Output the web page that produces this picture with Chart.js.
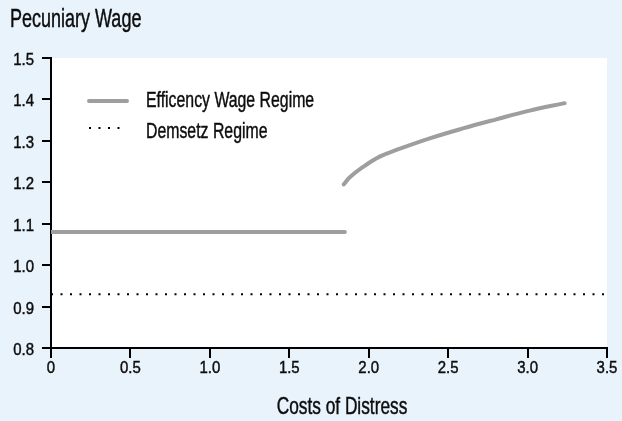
<!DOCTYPE html>
<html>
<head>
<meta charset="utf-8">
<script src="https://cdn.jsdelivr.net/npm/chart.js@4"></script>
<style>
html,body{margin:0;padding:0;background:#e8f3fb;}
#wrap{width:622px;height:421px;position:relative;}
</style>
</head>
<body>
<div id="wrap"><canvas id="c" width="622" height="421"></canvas></div>
<script>
const FONT = "'Liberation Sans', Arial, sans-serif";
const chartTitle = "Pecuniary Wage";
const xTitle = "Costs of Distress";
const seriesNames = ["Efficency Wage Regime", "Demsetz Regime"];
const effX = [0, 1.85, 1.845, 1.843, 1.881, 1.964, 2.069, 2.174, 2.384, 2.593, 2.803, 3.013, 3.233];
const effY = [1.08, 1.08, null, 1.195, 1.212, 1.237, 1.262, 1.278, 1.306, 1.330, 1.352, 1.373, 1.391];
const demX = [0, 3.5];
const demY = [0.93, 0.93];
const xTicks = [0, 0.5, 1.0, 1.5, 2.0, 2.5, 3.0, 3.5];
const yTicks = [0.8, 0.9, 1.0, 1.1, 1.2, 1.3, 1.4, 1.5];

const toPts = (xs, ys) => xs.map((x, i) => ({x: x, y: ys[i]}));
const xLabel = v => v === 0 ? '0' : Number(v).toFixed(1);
const yLabel = v => Number(v).toFixed(1);

function drawText(ctx, text, x, y, size, sx, align, baseline) {
  ctx.save();
  ctx.setLineDash([]);
  ctx.font = size + 'px ' + FONT;
  ctx.textAlign = align;
  ctx.textBaseline = baseline;
  ctx.fillStyle = '#0d0d0d';
  ctx.strokeStyle = '#0d0d0d';
  ctx.lineWidth = 0.45;
  ctx.translate(x, y);
  ctx.scale(sx, 1);
  ctx.fillText(text, 0, 0);
  ctx.strokeText(text, 0, 0);
  ctx.restore();
}

const deco = {
  id: 'deco',
  beforeDraw(chart) {
    const {ctx, chartArea: a} = chart;
    ctx.save();
    ctx.fillStyle = '#e8f3fb';
    ctx.fillRect(0, 0, chart.width, chart.height);
    ctx.fillStyle = '#ffffff';
    ctx.fillRect(a.left, a.top, a.right - a.left, a.bottom - a.top);
    ctx.restore();
  },
  afterDraw(chart) {
    const {ctx, chartArea: a, scales} = chart;
    // tick marks at the library's scale positions
    ctx.save();
    ctx.setLineDash([]);
    ctx.globalAlpha = 1;
    ctx.fillStyle = '#000000';
    xTicks.forEach(v => {
      const px = Math.round(scales.x.getPixelForValue(v));
      ctx.fillRect(px - 1, a.bottom, 2, 10);
    });
    yTicks.forEach(v => {
      const py = Math.round(scales.y.getPixelForValue(v));
      ctx.fillRect(a.left - 9, py - 1, 9, 2);
    });
    ctx.restore();

    drawText(ctx, chartTitle, 10, 27, 25, 0.72, 'left', 'alphabetic');
    drawText(ctx, xTitle, 342, 414, 24, 0.72, 'center', 'alphabetic');
    xTicks.forEach(v => {
      const px = scales.x.getPixelForValue(v);
      drawText(ctx, xLabel(v), px, a.bottom + 25, 17, 0.88, 'center', 'alphabetic');
    });
    yTicks.forEach(v => {
      const py = scales.y.getPixelForValue(v);
      drawText(ctx, yLabel(v), 34, py + 7, 17, 0.88, 'right', 'alphabetic');
    });
    const ds = chart.data.datasets;
    const rows = [101, 128];
    const textBase = [107, 138];
    ds.forEach((d, i) => {
      const y = rows[i];
      ctx.save();
      ctx.beginPath();
      ctx.strokeStyle = d.borderColor;
      ctx.lineWidth = d.borderWidth;
      ctx.lineCap = d.borderCapStyle || 'butt';
      ctx.setLineDash(d.borderDash || []);
      ctx.moveTo(a.left + 38, y);
      ctx.lineTo(a.left + 76, y);
      ctx.stroke();
      ctx.restore();
      drawText(ctx, d.label, 146, textBase[i], 22, 0.72, 'left', 'alphabetic');
    });
  }
};

new Chart(document.getElementById('c'), {
  type: 'line',
  data: {
    datasets: [
      {
        label: seriesNames[0],
        data: toPts(effX, effY),
        borderColor: '#9e9e9e',
        borderWidth: 4,
        borderCapStyle: 'round',
        pointRadius: 0,
        tension: 0.4,
        spanGaps: false,
        fill: false
      },
      {
        label: seriesNames[1],
        data: toPts(demX, demY),
        borderColor: '#000000',
        borderWidth: 2,
        borderDash: [2, 7.5],
        pointRadius: 0,
        fill: false
      }
    ]
  },
  options: {
    responsive: false,
    animation: false,
    layout: {padding: {left: 0, right: 15, top: 58, bottom: 0}},
    plugins: {legend: {display: false}, tooltip: {enabled: false}, title: {display: false}},
    scales: {
      x: {
        type: 'linear',
        min: 0, max: 3.5,
        afterBuildTicks(s) { s.ticks = xTicks.map(v => ({value: v})); },
        afterFit(s) { s.height = 73; },
        ticks: {display: false},
        grid: {display: false},
        border: {display: true, color: '#000', width: 2}
      },
      y: {
        type: 'linear',
        min: 0.8, max: 1.5,
        afterBuildTicks(s) { s.ticks = yTicks.map(v => ({value: v})); },
        afterFit(s) { s.width = 51; },
        ticks: {display: false},
        grid: {display: false},
        border: {display: true, color: '#000', width: 2}
      }
    }
  },
  plugins: [deco]
});
</script>
</body>
</html>
